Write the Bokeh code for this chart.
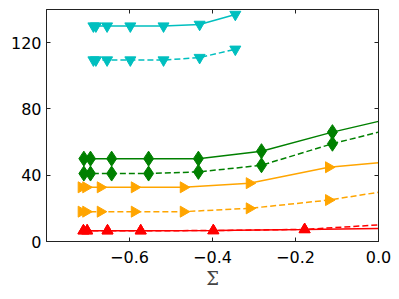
import numpy as np
from bokeh.plotting import figure
from bokeh.models import Range1d, LinearAxis, FixedTicker
from bokeh.embed import file_html
from bokeh.resources import INLINE

# ---- data ----
x_cyan = [-0.687, -0.681, -0.654, -0.598, -0.518, -0.431, -0.345]
y_cyan_solid = [130, 130, 130, 130, 130, 131, 137]
y_cyan_dashed = [109.5, 109.5, 109.5, 109.5, 109.5, 111, 116]

x_green = [-0.710, -0.694, -0.643, -0.554, -0.434, -0.282, -0.111, 0.0]
y_green_solid = [50, 50, 50, 50, 50, 54.5, 66, 72.5]
y_green_dashed = [41, 41, 41, 41, 42, 46, 59, 66]

x_orange = [-0.716, -0.705, -0.670, -0.588, -0.470, -0.311, -0.120, 0.0]
y_orange_solid = [32.7, 32.7, 32.7, 32.7, 32.7, 35.2, 44.8, 47.5]
y_orange_dashed = [18, 18, 18, 18, 18, 20, 25, 29.7]

x_red = [-0.711, -0.702, -0.653, -0.573, -0.398, -0.178, 0.0]
y_red_solid = [6.5, 6.5, 6.5, 6.5, 6.6, 7.2, 7.8]
y_red_dashed = [6.5, 6.5, 6.5, 6.5, 6.6, 7.3, 10]

x_ticks = [-0.6, -0.4, -0.2, 0.0]
x_tick_labels = ["\u22120.6", "\u22120.4", "\u22120.2", "0.0"]
y_ticks = [0, 40, 80, 120]
y_tick_labels = ["0", "40", "80", "120"]

CYAN = "#00BFBF"
GREEN = "#008000"
ORANGE = "#FFA500"
RED = "#FF0000"
AX = "#222222"

p = figure(width=391, height=291, output_backend="svg", toolbar_location=None,
           x_range=Range1d(-0.8, 0.0), y_range=Range1d(0, 140),
           x_axis_location=None, y_axis_location=None)
p.min_border_left = 46
p.min_border_right = 13
p.min_border_top = 9
p.min_border_bottom = 50
p.grid.visible = False
p.outline_line_color = AX
p.outline_line_width = 1
p.background_fill_color = "white"
p.border_fill_color = "white"

def base(ax):
    ax.axis_line_color = AX
    ax.major_tick_in = 4
    ax.major_tick_out = 0
    ax.minor_tick_in = 4
    ax.minor_tick_out = 0
    ax.major_tick_line_color = AX
    ax.minor_tick_line_color = AX
    ax.major_label_text_font = "DejaVu Sans"
    ax.major_label_text_font_size = "16px"
    ax.major_label_text_color = "black"

xb = LinearAxis(ticker=FixedTicker(ticks=x_ticks))
base(xb)
xb.major_label_overrides = {t: s for t, s in zip(x_ticks, x_tick_labels)}
xb.major_label_standoff = 9
xb.axis_label = "Σ"
xb.axis_label_text_font = "DejaVu Serif"
xb.axis_label_text_font_style = "normal"
xb.axis_label_text_font_size = "18px"
xb.axis_label_standoff = 2
p.add_layout(xb, "below")

yl = LinearAxis(ticker=FixedTicker(ticks=y_ticks))
base(yl)
yl.major_label_overrides = {t: s for t, s in zip(y_ticks, y_tick_labels)}
yl.major_label_standoff = 5
p.add_layout(yl, "left")

# top / right frame ticks (no labels): drawn as minor ticks only
xt = LinearAxis(ticker=FixedTicker(ticks=[], minor_ticks=x_ticks))
base(xt)
p.add_layout(xt, "above")

yr = LinearAxis(ticker=FixedTicker(ticks=[], minor_ticks=y_ticks))
base(yr)
p.add_layout(yr, "right")

LW = 1.5
DASH = "6 3"

def series(x, y, color, dash, marker, size, angle=0.0, nmark=None):
    p.line(x, y, line_color=color, line_width=LW, line_dash=dash)
    xm = x if nmark is None else x[:nmark]
    ym = y if nmark is None else y[:nmark]
    p.scatter(xm, ym, marker=marker, size=size, angle=angle,
              fill_color=color, line_color=color)

series(x_red, y_red_dashed, RED, DASH, "triangle", 11, nmark=6)
series(x_red, y_red_solid, RED, "solid", "triangle", 11, nmark=6)
series(x_orange, y_orange_dashed, ORANGE, DASH, "triangle", 11, angle=-np.pi / 2, nmark=7)
series(x_orange, y_orange_solid, ORANGE, "solid", "triangle", 11, angle=-np.pi / 2, nmark=7)
series(x_green, y_green_dashed, GREEN, DASH, "diamond", 15, nmark=7)
series(x_green, y_green_solid, GREEN, "solid", "diamond", 15, nmark=7)
series(x_cyan, y_cyan_dashed, CYAN, DASH, "inverted_triangle", 11)
series(x_cyan, y_cyan_solid, CYAN, "solid", "inverted_triangle", 11)

open("out.html", "w").write(file_html(p, INLINE))
